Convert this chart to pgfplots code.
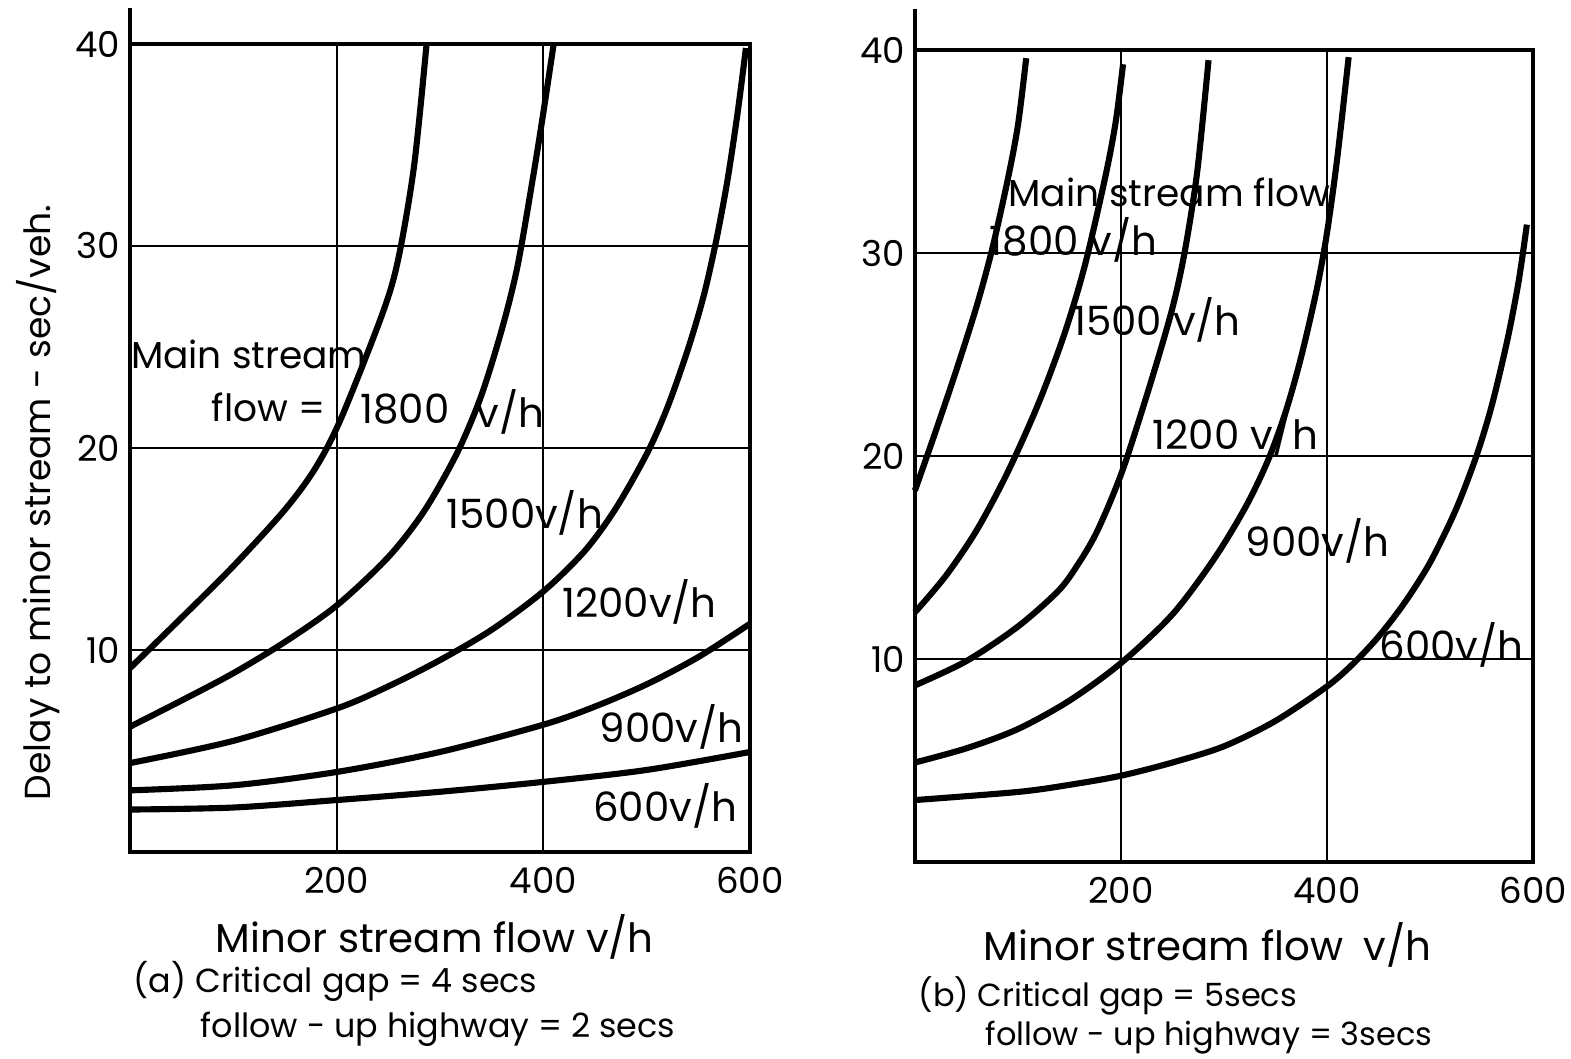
\documentclass[border=0pt]{standalone}
\usepackage{pgfplots}
\pgfplotsset{compat=1.18}
\usepackage{fontspec}
\setmainfont{Poppins}

\begin{document}
\begin{tikzpicture}
\pgfplotsset{
 panel/.style={
  scale only axis, width=223pt,
  xmin=0,xmax=600,ymin=0,ymax=40,
  xtick={200,400,600}, ytick={10,20,30,40},
  grid=major, major grid style={black, line width=0.7pt},
  axis line style={line width=1.2pt},
  major tick length=0pt,
  tick label style={font=\fontsize{12.8}{12.8}\selectfont},
  xticklabel style={yshift=-2pt},
  /pgf/number format/assume math mode=true,
  clip=false,
 },
}
\tikzset{
 curve/.style={black, line width=2.2pt, smooth, tension=0.5},
 lab/.style={font=\fontsize{14.5}{14.5}\selectfont, inner sep=0pt},
 labs/.style={font=\fontsize{13.5}{13.5}\selectfont, inner sep=0pt},
 xlab/.style={font=\fontsize{14.5}{14.5}\selectfont, inner sep=0pt},
 capt/.style={font=\fontsize{12}{12}\selectfont, inner sep=0pt, anchor=west},
 captb/.style={font=\fontsize{11.5}{11.5}\selectfont, inner sep=0pt, anchor=west},
}
% ---------------- panel (a)
\begin{axis}[panel, height=290.6pt, at={(0,0)}, anchor=south west]
\draw[line width=1.2pt] (axis cs:0,40) -- (axis cs:0,41.8);
% 1800 v/h
\addplot[curve] coordinates {(0,9.1) (50,11.6) (100,14.15) (150,16.95) (180,19.05) (205,21.55) (245,26.75) (260,29.45) (275,34.0) (287,40)};
% 1500 v/h
\addplot[curve] coordinates {(0,6.2) (50,7.5) (100,8.85) (150,10.4) (200,12.2) (250,14.6) (285,16.9) (317,19.8) (340,22.6) (360,25.9) (375,29.0) (390,33.4) (400,36.6) (410,40)};
% 1200 v/h
\addplot[curve] coordinates {(0,4.4) (100,5.5) (200,7.1) (250,8.2) (300,9.5) (350,11.0) (400,12.9) (440,14.9) (470,17.0) (500,19.7) (520,22.0) (540,24.9) (555,27.5) (567,30.2) (578,33.2) (588,36.6) (596,39.8)};
% 900 v/h
\addplot[curve] coordinates {(0,3.05) (100,3.3) (200,3.96) (300,4.95) (400,6.3) (450,7.2) (500,8.3) (550,9.65) (600,11.3)};
% 600 v/h
\addplot[curve] coordinates {(0,2.1) (100,2.2) (200,2.57) (300,2.98) (400,3.47) (500,4.06) (600,4.95)};
\node[labs] at (axis cs:115,24.65) {Main stream};
\node[labs] at (axis cs:134,22.0) {flow =};
\node[lab] at (axis cs:266,21.9) {1800};
\node[lab] at (axis cs:368,21.8) {v/h};
\node[lab] at (axis cs:382,16.8) {1500v/h};
\node[lab] at (axis cs:493,12.4) {1200v/h};
\node[lab] at (axis cs:524,6.2) {900v/h};
\node[lab] at (axis cs:518,2.3) {600v/h};
\node[xlab] at (axis cs:295,-4.2) {Minor stream flow v/h};
\node[capt] at (axis cs:3,-6.4) {(a) Critical gap = 4 secs};
\node[capt] at (axis cs:68,-8.8) {follow - up highway = 2 secs};
\node[font=\fontsize{13}{13}\selectfont, inner sep=0pt, rotate=90] at (axis cs:-89,17.3) {Delay to minor stream - sec/veh.};
\end{axis}
% ---------------- panel (b)
\begin{axis}[panel, width=222.3pt, height=292pt, at={(282.3pt,-3.6pt)}, anchor=south west]
\draw[line width=1.2pt] (axis cs:0,40) -- (axis cs:0,42);
% 1800 v/h
\addplot[curve] coordinates {(0,18.3) (20,21.2) (40,24.2) (60,27.4) (75,30.2) (90,33.6) (100,36.3) (108,39.6)};
% 1500 v/h
\addplot[curve] coordinates {(0,12.3) (30,14.1) (60,16.35) (90,19.2) (120,22.6) (145,26.0) (165,29.4) (185,33.8) (195,36.5) (202,39.3)};
% 1200 v/h
\addplot[curve] coordinates {(0,8.7) (50,9.9) (100,11.6) (140,13.4) (160,14.8) (175,16.1) (190,17.8) (205,19.8) (230,23.8) (250,27.3) (262,30.1) (274,34.0) (285,39.5)};
% 900 v/h
\addplot[curve] coordinates {(0,4.9) (50,5.6) (100,6.55) (150,7.95) (200,9.8) (250,12.2) (290,14.9) (320,17.4) (342,19.7) (360,22.2) (375,24.9) (390,28.2) (400,31.0) (410,34.7) (421,39.65)};
% 600 v/h
\addplot[curve] coordinates {(0,3.05) (100,3.45) (150,3.8) (200,4.25) (250,4.9) (300,5.7) (350,6.95) (400,8.65) (425,9.75) (450,11.1) (475,12.75) (500,14.75) (525,17.35) (545,20.0) (560,22.5) (575,25.7) (586,28.6) (594,31.4)};
\node[labs] at (axis cs:247,33.0) {Main stream flow};
\node[lab] at (axis cs:154,30.65) {1800 v/h};
\node[lab] at (axis cs:235,26.7) {1500 v/h};
\node[lab] at (axis cs:311,21.1) {1200 v/h};
\node[lab] at (axis cs:391,15.8) {900v/h};
\node[lab] at (axis cs:521,10.7) {600v/h};
\node[xlab] at (axis cs:284,-4.1) {Minor stream flow\hspace{0.5em}v/h};
\node[captb] at (axis cs:3,-6.6) {(b) Critical gap = 5secs};
\node[captb] at (axis cs:68,-8.65) {follow - up highway = 3secs};
\end{axis}
\pgfresetboundingbox
\path (-46.75pt,306.4pt) rectangle (518.25pt,-74.45pt);
\end{tikzpicture}
\end{document}
